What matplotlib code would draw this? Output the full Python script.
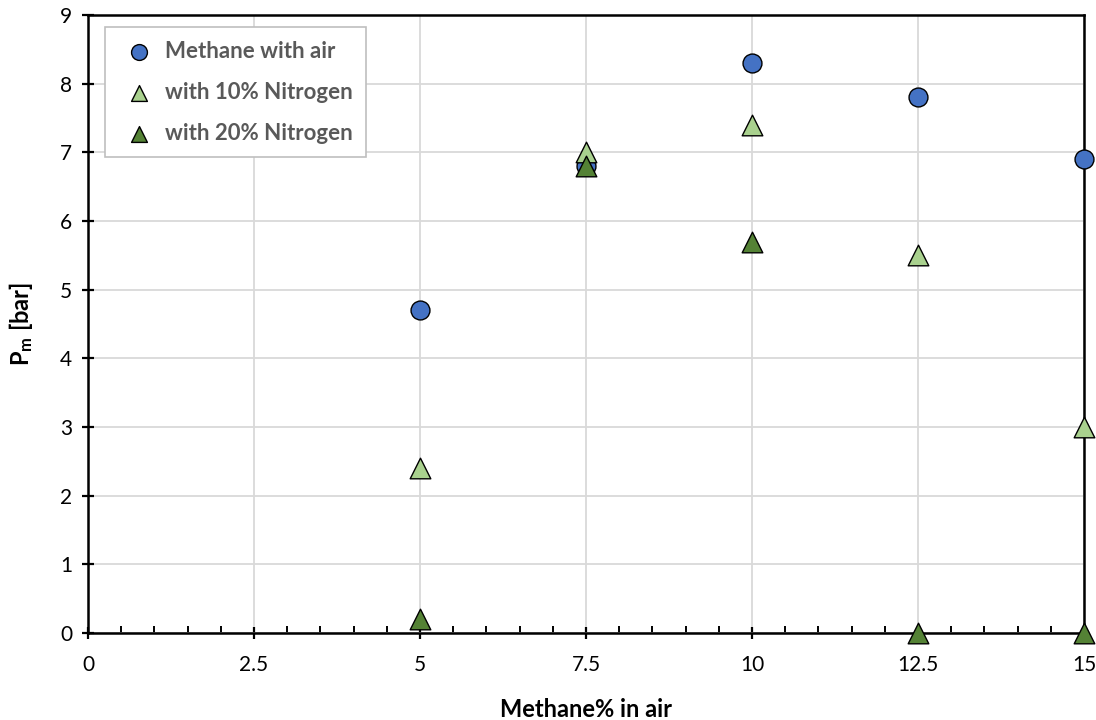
import matplotlib
matplotlib.use("Agg")
import matplotlib.pyplot as plt
from matplotlib.ticker import MultipleLocator

plt.rcParams['font.family'] = ['Lato', 'DejaVu Sans']
plt.rcParams['mathtext.fontset'] = 'custom'
plt.rcParams['mathtext.rm'] = 'Lato'
plt.rcParams['mathtext.bf'] = 'Lato:bold'
plt.rcParams['mathtext.it'] = 'Lato:italic'

methane_pct = [5, 7.5, 10, 12.5, 15]
pm_air = [4.7, 6.8, 8.3, 7.8, 6.9]
pm_n10 = [2.4, 7.0, 7.4, 5.5, 3.0]
pm_n20 = [0.2, 6.8, 5.7, 0.0, 0.0]

x_ticks = [0, 2.5, 5, 7.5, 10, 12.5, 15]
x_tick_labels = ["0", "2.5", "5", "7.5", "10", "12.5", "15"]
y_ticks = list(range(0, 10))

fig = plt.figure(figsize=(10.96, 7.2), dpi=100)
ax = fig.add_axes([88/1096, 1 - 633/720, (1084 - 88)/1096, (633 - 15)/720])

ax.scatter(methane_pct, pm_air, s=185, marker='o', color='#4472C4',
           edgecolor='black', linewidth=1.0, zorder=3, clip_on=False,
           label='Methane with air')
ax.scatter(methane_pct, pm_n10, s=220, marker='^', color='#A9D18E',
           edgecolor='black', linewidth=1.0, zorder=4, clip_on=False,
           label='with 10% Nitrogen')
ax.scatter(methane_pct, pm_n20, s=220, marker='^', color='#548235',
           edgecolor='black', linewidth=1.0, zorder=5, clip_on=False,
           label='with 20% Nitrogen')

ax.set_xlim(0, 15)
ax.set_ylim(0, 9)
ax.set_xticks(x_ticks)
ax.set_xticklabels(x_tick_labels)
ax.set_yticks(y_ticks)
ax.xaxis.set_minor_locator(MultipleLocator(0.5))

ax.grid(True, which='major', color='#D9D9D9', linewidth=1.3, zorder=0)
ax.set_axisbelow(True)

for sp in ax.spines.values():
    sp.set_color('black')
    sp.set_linewidth(1.8)

ax.tick_params(axis='both', which='major', direction='inout', length=9,
               width=1.6, labelsize=15, colors='black', pad=7)
ax.tick_params(axis='x', which='minor', direction='in', length=5, width=1.4)
ax.tick_params(axis='x', which='major', pad=11)

ax.set_xlabel('Methane% in air', fontsize=17, fontweight='bold', labelpad=17)
ax.set_ylabel(r'$\mathbf{P_m}$ [bar]', fontsize=17, fontweight='bold', labelpad=18)

leg = ax.legend(loc='upper left', bbox_to_anchor=(0.017, 0.98), frameon=True,
                fancybox=False, edgecolor='#BFBFBF', framealpha=1,
                prop={'weight': 'bold', 'size': 16}, labelspacing=0.9,
                handletextpad=0.2, borderpad=0.6, handlelength=1.9,
                borderaxespad=0)
leg.get_frame().set_linewidth(1.2)
for t in leg.get_texts():
    t.set_color('#595959')
for h in leg.legend_handles:
    h.set_sizes([130])

fig.savefig('out.png', dpi=100)
